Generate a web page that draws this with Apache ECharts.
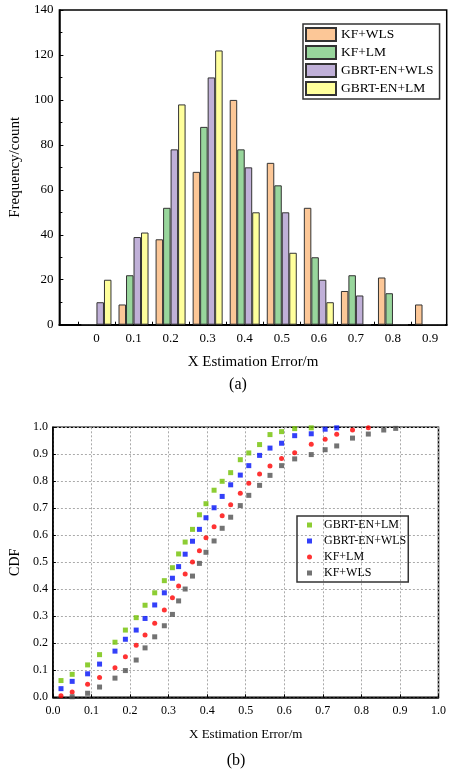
<!DOCTYPE html>
<html>
<head>
<meta charset="utf-8">
<script src="https://cdn.jsdelivr.net/npm/echarts@6/dist/echarts.min.js"></script>
<style>
  html, body { margin: 0; padding: 0; background: #fff; }
  #main { width: 449px; height: 769px; }
</style>
</head>
<body>
<div id="main"></div>
<script>
// (a) histogram: bin centres and counts
var bins = [0, 0.1, 0.2, 0.3, 0.4, 0.5, 0.6, 0.7, 0.8, 0.9];
var kfWls   = [0, 9, 38, 68, 100, 72, 52, 15, 21, 9];
var kfLm    = [0, 22, 52, 88, 78, 62, 30, 22, 14, 0];
var gbrtWls = [10, 39, 78, 110, 70, 50, 20, 13, 0, 0];
var gbrtLm  = [20, 41, 98, 122, 50, 32, 10, 0, 0, 0];
var histTicks = [-0.05, 0.05, 0.15, 0.25, 0.35, 0.45, 0.55, 0.65, 0.75, 0.85];

// (b) CDF: shared error values and cdf per method
var errX = [0.021, 0.05, 0.09, 0.121, 0.161, 0.188, 0.216, 0.239, 0.264, 0.289, 0.31, 0.326,
            0.343, 0.362, 0.38, 0.397, 0.418, 0.439, 0.461, 0.486, 0.508, 0.536, 0.563, 0.593,
            0.627, 0.67, 0.706, 0.736, 0.777, 0.818, 0.858, 0.889];
var cdfGbrtLm  = [0.062, 0.085, 0.12, 0.158, 0.204, 0.249, 0.295, 0.341, 0.387, 0.432, 0.48, 0.531,
                  0.575, 0.622, 0.676, 0.717, 0.767, 0.8, 0.832, 0.88, 0.905, 0.936, 0.973, 0.984,
                  0.995, 0.998];
var cdfGbrtWls = [0.032, 0.059, 0.087, 0.123, 0.171, 0.215, 0.249, 0.292, 0.342, 0.387, 0.441, 0.484,
                  0.53, 0.578, 0.622, 0.665, 0.702, 0.744, 0.787, 0.823, 0.858, 0.896, 0.923, 0.941,
                  0.969, 0.976, 0.993, 0.998];
var cdfKfLm    = [0.006, 0.02, 0.048, 0.073, 0.109, 0.15, 0.193, 0.231, 0.274, 0.323, 0.369, 0.412,
                  0.457, 0.501, 0.543, 0.591, 0.632, 0.672, 0.713, 0.756, 0.793, 0.827, 0.857, 0.884,
                  0.906, 0.937, 0.956, 0.974, 0.99, 0.998];
var cdfKfWls   = [null, 0.002, 0.015, 0.038, 0.071, 0.099, 0.138, 0.183, 0.224, 0.265, 0.307, 0.357,
                  0.401, 0.449, 0.496, 0.537, 0.579, 0.626, 0.667, 0.71, 0.748, 0.785, 0.822, 0.858,
                  0.883, 0.899, 0.917, 0.931, 0.96, 0.975, 0.99, 0.996];
var cdfTicks = [0, 0.1, 0.2, 0.3, 0.4, 0.5, 0.6, 0.7, 0.8, 0.9, 1.0];

var FONT = 'Liberation Serif';
// scatter series get a prefix so the two legends don't share items
var CDF = 'cdf:';

function pairs(xs, ys) {
  var out = [];
  for (var i = 0; i < ys.length; i++) {
    if (ys[i] != null) out.push([xs[i], ys[i]]);
  }
  return out;
}

function barSeries(name, vals, color) {
  return {
    name: name,
    type: 'bar',
    xAxisIndex: 0,
    yAxisIndex: 0,
    barWidth: 7.5,
    barGap: '0%',
    itemStyle: { color: color, borderColor: '#333', borderWidth: 1 },
    data: pairs(bins, vals)
  };
}

function dotSeries(name, ys, color, symbol) {
  return {
    name: CDF + name,
    type: 'scatter',
    xAxisIndex: 1,
    yAxisIndex: 1,
    symbol: symbol,
    symbolSize: 5,
    itemStyle: { color: color },
    data: pairs(errX, ys)
  };
}

var chart = echarts.init(document.getElementById('main'));
chart.setOption({
  animation: false,
  textStyle: { fontFamily: FONT },
  title: [
    { text: '(a)', left: 233, top: 372, textAlign: 'center',
      textStyle: { fontFamily: FONT, fontSize: 16, fontWeight: 'normal', color: '#000' } },
    { text: '(b)', left: 231, top: 748, textAlign: 'center',
      textStyle: { fontFamily: FONT, fontSize: 16, fontWeight: 'normal', color: '#000' } }
  ],
  legend: [
    {
      data: ['KF+WLS', 'KF+LM', 'GBRT-EN+WLS', 'GBRT-EN+LM'],
      orient: 'vertical',
      left: 303, top: 24,
      padding: [3, 6, 3, 2],
      itemGap: 3,
      itemWidth: 30, itemHeight: 13,
      icon: 'rect',
      borderColor: '#333', borderWidth: 1.5,
      textStyle: { fontFamily: FONT, fontSize: 13.5, color: '#000' }
    },
    {
      data: [CDF + 'GBRT-EN+LM', CDF + 'GBRT-EN+WLS', CDF + 'KF+LM', CDF + 'KF+WLS'],
      orient: 'vertical',
      left: 297, top: 516,
      padding: [3, 2, 3, 10],
      itemGap: 4,
      itemWidth: 5, itemHeight: 5,
      borderColor: '#333', borderWidth: 1.5,
      formatter: function (name) { return name.replace(CDF, ''); },
      textStyle: { fontFamily: FONT, fontSize: 12, color: '#000', padding: [0, 0, 0, 7] }
    }
  ],
  grid: [
    { left: 56.7, right: 2.3, top: 10, bottom: 444.3, show: true, borderColor: '#000', borderWidth: 1.5 },
    { left: 45, right: 5.7, top: 427.3, bottom: 71.7, show: true, borderColor: '#000', borderWidth: 1.5 }
  ],
  xAxis: [
    {
      gridIndex: 0, type: 'value', min: -0.1, max: 0.945,
      name: 'X Estimation Error/m', nameLocation: 'middle', nameGap: 30,
      nameTextStyle: { fontFamily: FONT, fontSize: 15, color: '#000' },
      axisLine: { lineStyle: { color: '#000', width: 2 } },
      axisTick: { inside: true, length: 3, customValues: histTicks, lineStyle: { color: '#000' } },
      axisLabel: { customValues: bins, margin: 7, fontFamily: FONT, fontSize: 13, color: '#000' },
      splitLine: { show: false }
    },
    {
      gridIndex: 1, type: 'value', min: 0, max: 1, interval: 0.1,
      name: 'X Estimation Error/m', nameLocation: 'middle', nameGap: 31,
      nameTextStyle: { fontFamily: FONT, fontSize: 13, color: '#000' },
      axisLine: { lineStyle: { color: '#000', width: 1.5 } },
      axisTick: { inside: true, length: 3, lineStyle: { color: '#000' } },
      axisLabel: { customValues: cdfTicks, margin: 8, fontFamily: FONT, fontSize: 12, color: '#000',
        formatter: function (v) { return v.toFixed(1); } },
      splitLine: { show: true, lineStyle: { color: '#aaa', type: [2, 2], width: 1 } }
    }
  ],
  yAxis: [
    {
      gridIndex: 0, type: 'value', min: 0, max: 140, interval: 20,
      name: 'Frequency/count', nameLocation: 'middle', nameGap: 31, nameRotate: 90,
      nameTextStyle: { fontFamily: FONT, fontSize: 15, color: '#000' },
      axisLine: { show: true, onZero: false, lineStyle: { color: '#000', width: 1.5 } },
      axisTick: { inside: true, length: 4, lineStyle: { color: '#000' } },
      minorTick: { show: true, splitNumber: 2, length: 3, lineStyle: { color: '#000' } },
      axisLabel: { margin: 6, fontFamily: FONT, fontSize: 13, color: '#000' },
      splitLine: { show: false }
    },
    {
      gridIndex: 1, type: 'value', min: 0, max: 1, interval: 0.1,
      name: 'CDF', nameLocation: 'middle', nameGap: 24, nameRotate: 90,
      nameTextStyle: { fontFamily: FONT, fontSize: 14, color: '#000' },
      axisLine: { show: true, onZero: false, lineStyle: { color: '#000', width: 1.5 } },
      axisTick: { inside: true, length: 3, lineStyle: { color: '#000' } },
      axisLabel: { margin: 5, fontFamily: FONT, fontSize: 12, color: '#000',
        formatter: function (v) { return v.toFixed(1); } },
      splitLine: { show: true, lineStyle: { color: '#aaa', type: [2, 2], width: 1 } }
    }
  ],
  series: [
    barSeries('KF+WLS', kfWls, '#fcc797'),
    barSeries('KF+LM', kfLm, '#98d69c'),
    barSeries('GBRT-EN+WLS', gbrtWls, '#c0b0d8'),
    barSeries('GBRT-EN+LM', gbrtLm, '#ffff9c'),
    dotSeries('GBRT-EN+LM', cdfGbrtLm, '#70c000', 'rect'),
    dotSeries('GBRT-EN+WLS', cdfGbrtWls, '#0010f8', 'rect'),
    dotSeries('KF+LM', cdfKfLm, '#ff0000', 'circle'),
    dotSeries('KF+WLS', cdfKfWls, '#505050', 'rect')
  ]
});
</script>
</body>
</html>
